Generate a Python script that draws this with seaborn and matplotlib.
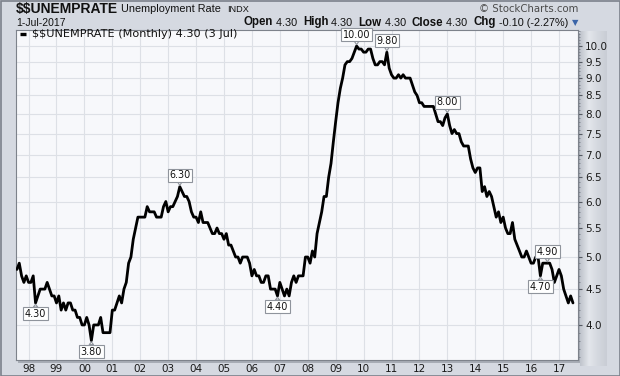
import numpy as np
import pandas as pd
import matplotlib
matplotlib.use("Agg")
import matplotlib.pyplot as plt
import seaborn as sns
from matplotlib.patches import Rectangle
from matplotlib.colors import LinearSegmentedColormap
from matplotlib.ticker import FixedLocator, FixedFormatter, NullFormatter

# ---------------- data ----------------
start_date = "1997-08-01"
rate = [
    4.8, 4.9, 4.7, 4.6, 4.7,                                      # 1997 Aug-Dec
    4.6, 4.6, 4.7, 4.3, 4.4, 4.5, 4.5, 4.5, 4.6, 4.5, 4.4, 4.4,   # 1998
    4.3, 4.4, 4.2, 4.3, 4.2, 4.3, 4.3, 4.2, 4.2, 4.1, 4.1, 4.0,   # 1999
    4.0, 4.1, 4.0, 3.8, 4.0, 4.0, 4.0, 4.1, 3.9, 3.9, 3.9, 3.9,   # 2000
    4.2, 4.2, 4.3, 4.4, 4.3, 4.5, 4.6, 4.9, 5.0, 5.3, 5.5, 5.7,   # 2001
    5.7, 5.7, 5.7, 5.9, 5.8, 5.8, 5.8, 5.7, 5.7, 5.7, 5.9, 6.0,   # 2002
    5.8, 5.9, 5.9, 6.0, 6.1, 6.3, 6.2, 6.1, 6.1, 6.0, 5.8, 5.7,   # 2003
    5.7, 5.6, 5.8, 5.6, 5.6, 5.6, 5.5, 5.4, 5.4, 5.5, 5.4, 5.4,   # 2004
    5.3, 5.4, 5.2, 5.2, 5.1, 5.0, 5.0, 4.9, 5.0, 5.0, 5.0, 4.9,   # 2005
    4.7, 4.8, 4.7, 4.7, 4.6, 4.6, 4.7, 4.7, 4.5, 4.5, 4.5, 4.4,   # 2006
    4.6, 4.5, 4.4, 4.5, 4.4, 4.6, 4.7, 4.6, 4.7, 4.7, 4.7, 5.0,   # 2007
    5.0, 4.9, 5.1, 5.0, 5.4, 5.6, 5.8, 6.1, 6.1, 6.5, 6.8, 7.3,   # 2008
    7.8, 8.3, 8.7, 9.0, 9.4, 9.5, 9.5, 9.6, 9.8, 10.0, 9.9, 9.9,  # 2009
    9.8, 9.8, 9.9, 9.9, 9.6, 9.4, 9.4, 9.5, 9.5, 9.4, 9.8, 9.3,   # 2010
    9.1, 9.0, 9.0, 9.1, 9.0, 9.1, 9.0, 9.0, 9.0, 8.8, 8.6, 8.5,   # 2011
    8.3, 8.3, 8.2, 8.2, 8.2, 8.2, 8.2, 8.0, 7.8, 7.8, 7.7, 7.9,   # 2012
    8.0, 7.7, 7.5, 7.6, 7.5, 7.5, 7.3, 7.2, 7.2, 7.2, 6.9, 6.7,   # 2013
    6.6, 6.7, 6.7, 6.2, 6.3, 6.1, 6.2, 6.1, 5.9, 5.7, 5.8, 5.6,   # 2014
    5.7, 5.5, 5.4, 5.4, 5.6, 5.3, 5.2, 5.1, 5.0, 5.0, 5.1, 5.0,   # 2015
    4.9, 4.9, 5.0, 5.0, 4.7, 4.9, 4.9, 4.9, 4.9, 4.8, 4.6, 4.7,   # 2016
    4.8, 4.7, 4.5, 4.4, 4.3, 4.4, 4.3,                            # 2017 Jan-Jul
]

label_dates = ["1998-04", "2000-04", "2003-06", "2006-12", "2009-10",
               "2010-11", "2013-01", "2016-08", "2016-05"]
label_values = [4.30, 3.80, 6.30, 4.40, 10.00, 9.80, 8.00, 4.90, 4.70]
label_above = [False, False, True, False, True, True, True, True, False]

ytick_values = [4.0, 4.5, 5.0, 5.5, 6.0, 6.5, 7.0, 7.5, 8.0, 8.5, 9.0, 9.5, 10.0]
ytick_labels = ["4.0", "4.5", "5.0", "5.5", "6.0", "6.5", "7.0", "7.5",
                "8.0", "8.5", "9.0", "9.5", "10.0"]
xtick_years = list(range(1998, 2018))
xtick_labels = ["98", "99", "00", "01", "02", "03", "04", "05", "06", "07",
                "08", "09", "10", "11", "12", "13", "14", "15", "16", "17"]

title_symbol = "$$UNEMPRATE"
title_name = "Unemployment Rate"
title_exch = "INDX"
date_text = "1-Jul-2017"
legend_text = "$$UNEMPRATE (Monthly) 4.30 (3 Jul)"
stats = [("Open", "4.30"), ("High", "4.30"), ("Low", "4.30"),
         ("Close", "4.30"), ("Chg", "-0.10 (-2.27%)")]

# ---------------- figure ----------------
dates = pd.date_range(start_date, periods=len(rate), freq="MS")
t = dates.year + (dates.month - 1) / 12.0
df = pd.DataFrame({"t": t, "rate": rate})

sns.set_theme(style="white")
plt.rcParams["font.family"] = ["DejaVu Sans"]
plt.rcParams["text.parse_math"] = False

W, H = 620, 376
fig = plt.figure(figsize=(W / 100, H / 100), dpi=100, facecolor="#d5d9e1")

def fr(x0, y0, x1, y1):
    return [x0 / W, 1 - y1 / H, (x1 - x0) / W, (y1 - y0) / H]

# right axis panel with gradient
pax = fig.add_axes(fr(580, 31, 607, 366), zorder=0)
grad = np.linspace(0, 1, 64)[None, :]
cm = LinearSegmentedColormap.from_list("g", ["#bfc4cc", "#e3e6eb", "#d4d8df", "#c9cdd5"])
pax.imshow(grad, aspect="auto", cmap=cm, extent=[0, 1, 0, 1])
pax.set_axis_off()

# plot shadow
fig.patches.append(Rectangle((18 / W, 1 - 363 / H), 562 / W, 330 / H,
                             transform=fig.transFigure, fc="#a7acb5", ec="none", zorder=0.5))

ax = fig.add_axes(fr(16, 30, 578, 360), zorder=2)
ax.set_facecolor("#f7f8fb")

sns.lineplot(data=df, x="t", y="rate", ax=ax, color="black", lw=2.0, zorder=3)

ax.set_yscale("log")
ax.set_ylim(3.565, 10.54)
ax.set_xlim(1997.55, 2017.68)
ax.yaxis.set_major_locator(FixedLocator(ytick_values))
ax.yaxis.set_major_formatter(FixedFormatter(ytick_labels))
ax.yaxis.set_minor_locator(FixedLocator(np.round(np.arange(3.6, 10.6, 0.1), 1)))
ax.yaxis.set_minor_formatter(NullFormatter())
ax.yaxis.tick_right()
ax.set_xticks(xtick_years)
ax.set_xticklabels(xtick_labels)
ax.tick_params(axis="y", which="major", length=3, width=0.8, direction="out",
               labelsize=7.5, pad=2, color="#555a62", labelcolor="#1a1a1a")
ax.tick_params(axis="y", which="minor", length=1.5, width=0.6, direction="out",
               color="#7a7f88")
ax.tick_params(axis="x", length=0, labelsize=7.5, pad=3, labelcolor="#1a1a1a")
ax.grid(True, which="major", color="#dde0e6", lw=0.8)
ax.set_xlabel("")
ax.set_ylabel("")
for s in ax.spines.values():
    s.set_color("#7d828b")
    s.set_linewidth(0.8)

# annotations
for d, v, up in zip(label_dates, label_values, label_above):
    dt = pd.Timestamp(d + "-01")
    x = dt.year + (dt.month - 1) / 12.0
    off = 11.5 if up else -11
    ax.annotate(f"{v:.2f}", xy=(x, v), xytext=(0, off), textcoords="offset pixels",
                ha="center", va="center", fontsize=6.9, color="#111111", zorder=5,
                bbox=dict(boxstyle="square,pad=0.16", fc="white", ec="#8f949c", lw=0.8),
                arrowprops=dict(arrowstyle="wedge,tail_width=0.45,shrink_factor=0.5",
                                fc="white", ec="#8f949c", lw=0.8, shrinkA=0, shrinkB=1))

# legend line
ax.plot([(20 - 16) / 562, (26 - 16) / 562], [0.988, 0.988], transform=ax.transAxes,
        color="black", lw=2.4, solid_capstyle="butt", zorder=6)
ax.text((32 - 16) / 562, 0.988, legend_text, transform=ax.transAxes, ha="left",
        va="center", fontsize=8.1, color="#111111", zorder=6)

# header
hf = ["Liberation Sans", "DejaVu Sans"]
sym = fig.text(16 / W, 1 - 8.5 / H, title_symbol, fontsize=10, fontweight="bold",
               family=hf, va="center", ha="left", color="#111111")
fig.canvas.draw()
r = fig.canvas.get_renderer()
bb = sym.get_window_extent(r)
tname = fig.text((bb.x1 + 3) / W, 1 - 9.5 / H, title_name, fontsize=7.8, family=hf,
                 va="center", ha="left", color="#111111")
bb2 = tname.get_window_extent(r)
fig.text((bb2.x1 + 6) / W, 1 - 9.5 / H, title_exch, fontsize=6.6, family=hf,
         va="center", ha="left", color="#111111")
fig.text(16 / W, 1 - 22.5 / H, date_text, fontsize=7.5, family=hf,
         va="center", ha="left", color="#111111")
fig.text(578 / W, 1 - 9 / H, "\u00a9 StockCharts.com", fontsize=7.3,
         va="center", ha="right", color="#4a4a4a")

# stats line laid out from left, then shifted to end at x=568
pieces = []
x = 0.0
for lab, val in stats:
    a = fig.text(0, 1 - 22.5 / H, lab, fontsize=8.3, fontweight="bold", family=hf,
                 va="center", ha="left", color="#111111")
    b = fig.text(0, 1 - 22.5 / H, " " + val, fontsize=7.8, family=hf,
                 va="center", ha="left", color="#111111")
    wa = a.get_window_extent(r).width
    wb = b.get_window_extent(r).width
    pieces.append((a, x))
    pieces.append((b, x + wa))
    x += wa + wb + 6
total = x - 6
x0 = 568 - total
for txt, px in pieces:
    txt.set_x((x0 + px) / W)
fig.text(575 / W, 1 - 23 / H, "\u25BC", fontsize=6, color="#3a64a8",
         va="center", ha="center")

# outer border
fig.patches.append(Rectangle((0.5 / W, 0.5 / H), 1 - 1 / W, 1 - 1 / H,
                             transform=fig.transFigure, fill=False,
                             ec="#7c818b", lw=1.2, zorder=10))

fig.savefig("out.png", dpi=100, facecolor=fig.get_facecolor())
